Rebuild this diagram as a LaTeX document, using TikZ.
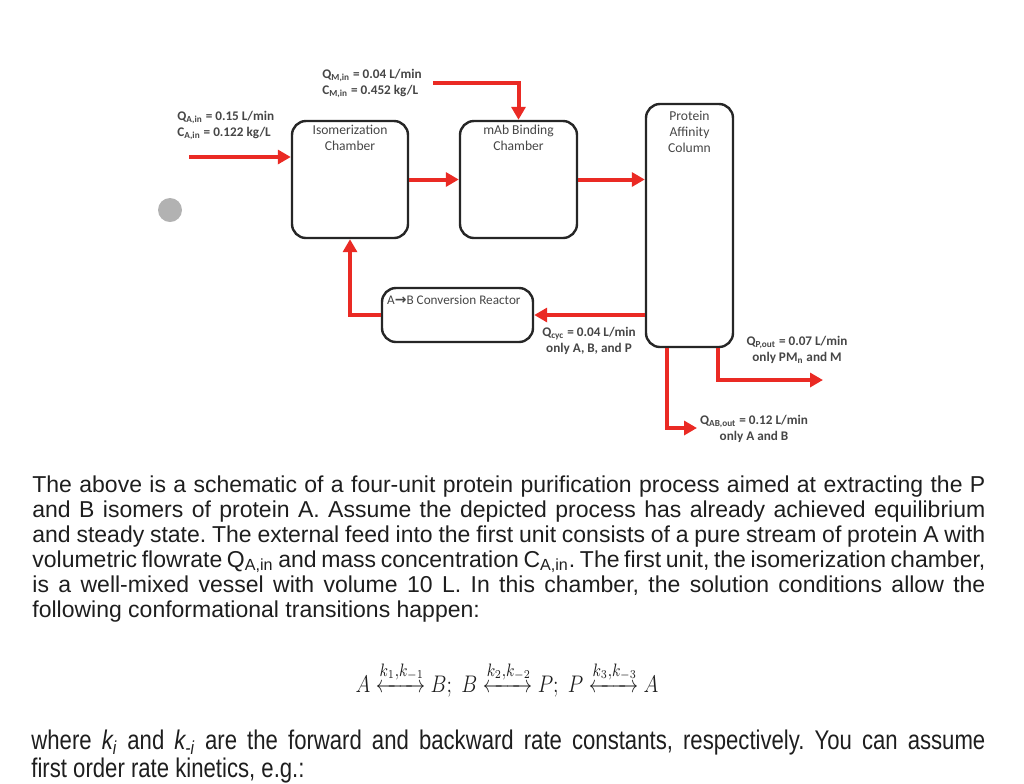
\documentclass[tikz,border=0pt]{standalone}
\usepackage{fontspec}
\usepackage{mathtools}
\usepackage{graphicx}
\setmainfont{Liberation Sans}
\newfontfamily\calib{Carlito}
\newfontfamily\arrowfont{DejaVu Sans}
\newfontfamily\narrowsans{Liberation Sans}[FakeStretch=0.82]
\usetikzlibrary{
  arrows.meta,
  positioning,
  calc
}
\definecolor{FlowRed}{RGB}{234,42,36}
\definecolor{BoxBlack}{RGB}{38,38,38}
\definecolor{LabelGray}{RGB}{70,70,70}
\definecolor{TextBlack}{RGB}{30,30,30}
\definecolor{DotGray}{RGB}{178,178,178}
\tikzset{
  unitbox/.style={draw=BoxBlack,line width=1.2pt,rounded corners=7pt,inner sep=0pt},
  boxlabel/.style={font=\calib\fontsize{6.8}{8}\selectfont,text=LabelGray,align=center,inner sep=0pt},
  flowlabel/.style={font=\calib\bfseries\fontsize{6.6}{8}\selectfont,text=LabelGray,inner sep=0pt},
  flow/.style={-{Triangle[length=6.5pt,width=7pt]},line width=2pt,draw=FlowRed},
  para/.style={text width=476.5pt,align=justify,inner sep=0pt,text=TextBlack,font=\fontsize{11.5}{12.5}\selectfont},
  notepara/.style={text width=477pt,align=justify,inner sep=0pt,text=TextBlack,font=\narrowsans\fontsize{13.5}{12.5}\selectfont},
  eqnode/.style={inner sep=0pt,text=TextBlack,font=\fontsize{12.5}{15}\selectfont},
  touchdot/.style={circle,fill=DotGray,minimum size=12pt,inner sep=0pt}
}
\newcommand{\rxn}[1]{\xleftrightarrow{\mkern-4mu#1\mkern-4mu}}
\begin{document}
\begin{tikzpicture}[x=0.5pt,y=-0.5pt,node distance=2pt]
\useasboundingbox (0,0) rectangle (1024,783);
\node[unitbox, minimum width=58pt, minimum height=58.5pt] (iso) at (350,179.5) {};
\node[unitbox, minimum width=58.5pt, minimum height=58.5pt] (mab) at (518.5,179.5) {};
\node[unitbox, minimum width=43.5pt, minimum height=121.5pt] (col) at (689.5,225.5) {};
\node[unitbox, minimum width=75.5pt, minimum height=27pt] (rct) at (457.5,315) {};
\node[boxlabel, below=2.5pt of iso.north] (isotxt) {Isomerization\\Chamber};
\node[boxlabel, below=2.5pt of mab.north] (mabtxt) {mAb Binding\\Chamber};
\node[boxlabel, below=4pt of col.north] (coltxt) {Protein\\Affinity\\Column};
\node[boxlabel, font=\calib\fontsize{6.6}{8}\selectfont, below right=4pt and 3pt of rct.north west] (rcttxt) {A{\arrowfont\bfseries\fontsize{7}{8}\selectfont →}B Conversion Reactor};
\node[touchdot] (touch) at (170,210) {};
\coordinate (feedin) at (189,157);
\coordinate (min) at (433,83);
\coordinate (about) at (697,428);
\coordinate (pout) at (823,380);
\draw[flow] (feedin) -- (feedin -| iso.west);
\draw[flow] (iso) -- (mab);
\draw[flow] (mab.east) -- (mab.east -| col.west);
\draw[flow] (min) -| (mab.north);
\draw[flow] (rct.east -| col.west) -- (rct.east);
\draw[flow] (rct.west) -| (iso.south);
\draw[flow] ($(col.south west)+(22,0)$) |- (about);
\draw[flow] ($(col.south east)+(-16,0)$) |- (pout);
\node[flowlabel, align=left, anchor=north west] (feedtxt) at (177,111) {Q\textsubscript{A,in} = 0.15 L/min\\C\textsubscript{A,in} = 0.122 kg/L};
\node[flowlabel, align=left, anchor=north west] (mintxt) at (322,69) {Q\textsubscript{M,in} = 0.04 L/min\\C\textsubscript{M,in} = 0.452 kg/L};
\node[flowlabel, align=center, anchor=north] (cyctxt) at (589,327) {Q\textsubscript{cyc} = 0.04 L/min\\only A, B, and P};
\node[flowlabel, align=center, anchor=north] (pouttxt) at (797,336) {Q\textsubscript{P,out} = 0.07 L/min\\only PM\textsubscript{n} and M};
\node[flowlabel, align=center, anchor=north] (abouttxt) at (754,415) {Q\textsubscript{AB,out} = 0.12 L/min\\only A and B};
\node[para, anchor=north west] (desc) at (32,475) {\frenchspacing\hyphenpenalty=10000 The above is a schematic of a four-unit protein purification process aimed at extracting the P\linebreak and B isomers of protein A. Assume the depicted process has already achieved equilibrium\linebreak and steady state. The external feed into the first unit consists of a pure stream of protein A with\linebreak volumetric flowrate Q\textsubscript{A,in} and mass concentration C\textsubscript{A,in}. The first unit, the isomerization chamber,\linebreak is a well-mixed vessel with volume 10 L. In this chamber, the solution conditions allow the\linebreak following conformational transitions happen:};
\node[eqnode, anchor=base] (rates) at (507,692) {\resizebox{151.5pt}{\height}{$A \rxn{k_1,k_{-1}} B;\ B \rxn{k_2,k_{-2}} P;\ P \rxn{k_3,k_{-3}} A$}};
\node[notepara, anchor=north west] (kin) at (31,730) {\frenchspacing\hyphenpenalty=10000 where {\itshape k}\textsubscript{\itshape i} and {\itshape k}\textsubscript{\itshape -i} are the forward and backward rate constants, respectively. You can assume\linebreak first order rate kinetics, e.g.:};
\end{tikzpicture}
\end{document}
